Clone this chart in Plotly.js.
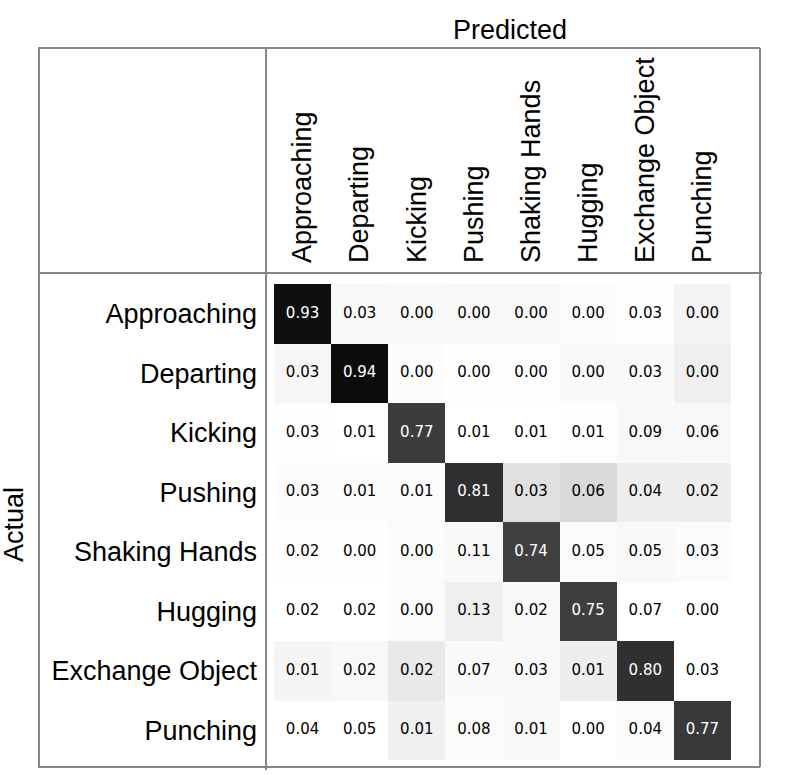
<!DOCTYPE html>
<html>
<head>
<meta charset="utf-8">
<script src="https://cdn.plot.ly/plotly-3.0.1.min.js"></script>
<style>
  html, body { margin: 0; padding: 0; background: #ffffff; }
  #chart { width: 796px; height: 775px; }
</style>
</head>
<body>
<div id="chart"></div>
<script>
// Class labels (predicted = columns, actual = rows)
const predictedLabels = ["Approaching", "Departing", "Kicking", "Pushing", "Shaking Hands", "Hugging", "Exchange Object", "Punching"];
const actualLabels = ["Approaching", "Departing", "Kicking", "Pushing", "Shaking Hands", "Hugging", "Exchange Object", "Punching"];

// Printed values in each cell (rows = actual, columns = predicted)
const cellValues = [
  [0.93, 0.03, 0.00, 0.00, 0.00, 0.00, 0.03, 0.00],
  [0.03, 0.94, 0.00, 0.00, 0.00, 0.00, 0.03, 0.00],
  [0.03, 0.01, 0.77, 0.01, 0.01, 0.01, 0.09, 0.06],
  [0.03, 0.01, 0.01, 0.81, 0.03, 0.06, 0.04, 0.02],
  [0.02, 0.00, 0.00, 0.11, 0.74, 0.05, 0.05, 0.03],
  [0.02, 0.02, 0.00, 0.13, 0.02, 0.75, 0.07, 0.00],
  [0.01, 0.02, 0.02, 0.07, 0.03, 0.01, 0.80, 0.03],
  [0.04, 0.05, 0.01, 0.08, 0.01, 0.00, 0.04, 0.77]
];

// Cell darkness (0 = white, 1 = black)
const cellShade = [
  [0.940, 0.027, 0.024, 0.027, 0.027, 0.016, 0.004, 0.047],
  [0.035, 0.953, 0.012, 0.004, 0.004, 0.020, 0.024, 0.063],
  [0.004, 0.000, 0.765, 0.000, 0.000, 0.004, 0.027, 0.027],
  [0.012, 0.012, 0.012, 0.816, 0.122, 0.145, 0.067, 0.071],
  [0.004, 0.004, 0.016, 0.024, 0.749, 0.016, 0.027, 0.016],
  [0.000, 0.000, 0.016, 0.063, 0.020, 0.757, 0.000, 0.000],
  [0.039, 0.027, 0.086, 0.020, 0.027, 0.067, 0.812, 0.000],
  [0.000, 0.000, 0.059, 0.016, 0.024, 0.000, 0.016, 0.776]
];

const W = 796, H = 775;
const M = { l: 274, r: 65, t: 284, b: 15 };
const PW = W - M.l - M.r, PH = H - M.t - M.b;
const px = x => (x - M.l) / PW;
const py = y => (H - M.b - y) / PH;

const heat = {
  type: "heatmap",
  x: predictedLabels,
  y: actualLabels,
  z: cellShade,
  zmin: 0,
  zmax: 1,
  colorscale: [[0, "#ffffff"], [1, "#000000"]],
  showscale: false,
  hoverinfo: "skip"
};

// Text labels placed at the category positions through the axes
const tx = [], ty = [], tt = [], tc = [];
actualLabels.forEach((rowName, i) => {
  predictedLabels.forEach((colName, j) => {
    tx.push(colName);
    ty.push(rowName);
    tt.push(cellValues[i][j].toFixed(2));
    tc.push(cellShade[i][j] > 0.5 ? "#ffffff" : "#000000");
  });
});
const labels = {
  type: "scatter",
  mode: "text",
  x: tx,
  y: ty,
  text: tt,
  textposition: "middle center",
  textfont: { family: "DejaVu Sans", size: 15, color: tc },
  hoverinfo: "skip",
  showlegend: false
};

const lineStyle = { color: "#858585", width: 2 };
function seg(x0, y0, x1, y1) {
  return { type: "line", xref: "paper", yref: "paper",
           x0: px(x0), y0: py(y0), x1: px(x1), y1: py(y1), line: lineStyle };
}

const layout = {
  width: W,
  height: H,
  margin: M,
  showlegend: false,
  paper_bgcolor: "#ffffff",
  plot_bgcolor: "#ffffff",
  font: { family: "Liberation Sans", color: "#000000" },
  xaxis: {
    side: "top",
    type: "category",
    categoryorder: "array",
    categoryarray: predictedLabels,
    tickangle: -90,
    tickfont: { family: "Liberation Sans", size: 27, color: "#000000" },
    ticks: "",
    ticklabelstandoff: 20,
    showgrid: false,
    zeroline: false,
    showline: false,
    fixedrange: true
  },
  yaxis: {
    type: "category",
    categoryorder: "array",
    categoryarray: actualLabels,
    autorange: "reversed",
    tickfont: { family: "Liberation Sans", size: 27, color: "#000000" },
    ticks: "",
    ticklabelstandoff: 16,
    showgrid: false,
    zeroline: false,
    showline: false,
    fixedrange: true
  },
  shapes: [
    seg(39, 48, 760, 48),
    seg(39, 47, 39, 768),
    seg(760, 48, 760, 767),
    seg(39, 767, 760, 767),
    seg(266, 48, 266, 770),
    seg(39, 273, 762, 273)
  ],
  annotations: [
    { text: "Predicted", xref: "paper", yref: "paper", x: px(510), y: py(30),
      xanchor: "center", yanchor: "middle", showarrow: false,
      font: { family: "Liberation Sans", size: 27, color: "#000000" } },
    { text: "Actual", xref: "paper", yref: "paper", x: px(14), y: py(525),
      xanchor: "center", yanchor: "middle", showarrow: false, textangle: -90,
      font: { family: "Liberation Sans", size: 27, color: "#000000" } }
  ]
};

Plotly.newPlot("chart", [heat, labels], layout, { displayModeBar: false, staticPlot: true });
</script>
</body>
</html>
